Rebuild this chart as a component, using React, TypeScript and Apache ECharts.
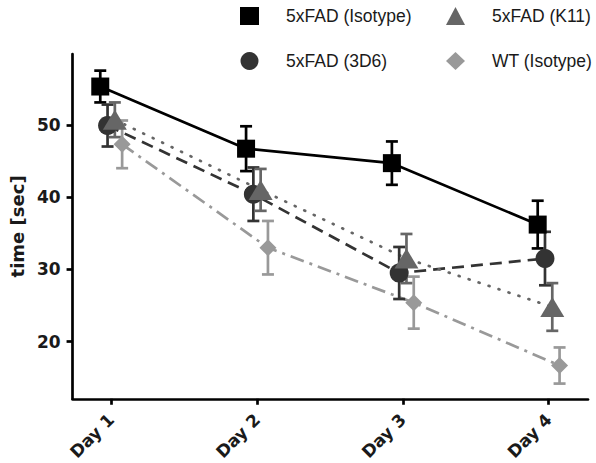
import React, { useEffect, useRef } from "react";
import * as echarts from "echarts";

const days = ["Day 1", "Day 2", "Day 3", "Day 4"];
const groups = ["5xFAD (Isotype)", "5xFAD (3D6)", "5xFAD (K11)", "WT (Isotype)"];
const isotypeMean = [55.3, 46.7, 44.7, 36.2];
const isotypeErr = [2.2, 3.1, 3.0, 3.3];
const d3d6Mean = [49.9, 40.4, 29.5, 31.5];
const d3d6Err = [2.9, 3.7, 3.6, 3.7];
const k11Mean = [50.7, 41.0, 31.5, 24.8];
const k11Err = [2.4, 2.9, 3.4, 3.3];
const wtMean = [47.3, 33.0, 25.4, 16.7];
const wtErr = [3.3, 3.7, 3.6, 2.5];
const yTicks = [20, 30, 40, 50];

const means = [isotypeMean, d3d6Mean, k11Mean, wtMean];
const errs = [isotypeErr, d3d6Err, k11Err, wtErr];
const colors = ["#000000", "#333333", "#666666", "#999999"];
const symbols = ["rect", "circle", "triangle", "diamond"];
const symbolSizes: any[] = [18, 19, [24, 20], 17];
const dashes: any[] = ["solid", [12, 7], [1, 9.5], [14, 6, 3, 6]];
const dodgeWidth = 0.2;
const FONT = "Liberation Sans, Arial, Helvetica, sans-serif";
const BOLDFONT = "DejaVu Sans, Liberation Sans, Arial, sans-serif";

export default function App() {
  const ref = useRef<HTMLDivElement>(null);
  useEffect(() => {
    if (!ref.current) return;
    const chart = echarts.init(ref.current, undefined, { renderer: "svg" });
    const series: any[] = [];
    groups.forEach((g, gi) => {
      const off = (gi - 1.5) * (dodgeWidth / groups.length);
      const pts = means[gi].map((m, di) => [di + 1 + off, m]);
      series.push({
        name: g,
        type: "line",
        data: pts,
        showSymbol: false,
        symbol: "none",
        z: 2,
        lineStyle: { color: colors[gi], width: 2.7, type: dashes[gi], cap: gi === 2 ? "round" : "butt" },
        itemStyle: { color: colors[gi] },
        silent: true,
      });
      series.push({
        name: g,
        type: "custom",
        z: 3,
        data: means[gi].map((m, di) => [di + 1 + off, m, errs[gi][di]]),
        renderItem: (params: any, api: any) => {
          const x = api.value(0);
          const m = api.value(1);
          const e = api.value(2);
          const top = api.coord([x, m + e]);
          const bot = api.coord([x, m - e]);
          const hw = 6;
          const st = { stroke: colors[gi], lineWidth: 2.7, fill: null };
          return {
            type: "group",
            children: [
              { type: "line", shape: { x1: top[0], y1: top[1], x2: bot[0], y2: bot[1] }, style: st },
              { type: "line", shape: { x1: top[0] - hw, y1: top[1], x2: top[0] + hw, y2: top[1] }, style: st },
              { type: "line", shape: { x1: bot[0] - hw, y1: bot[1], x2: bot[0] + hw, y2: bot[1] }, style: st },
            ],
          };
        },
        itemStyle: { color: colors[gi] },
      });
      series.push({
        name: g,
        type: "scatter",
        z: 4,
        data: pts,
        symbol: symbols[gi],
        symbolSize: symbolSizes[gi],
        itemStyle: { color: colors[gi], opacity: 1 },
      });
    });

    const legendBase = {
      orient: "vertical",
      top: 7,
      padding: 0,
      itemWidth: 19,
      itemHeight: 18,
      itemGap: 27,
      selectedMode: false,
      textStyle: { fontFamily: FONT, fontSize: 17.5, color: "#1a1a1a", padding: [0, 0, 0, 22] },
    };
    chart.setOption({
      animation: false,
      backgroundColor: "#ffffff",
      legend: [
        {
          ...legendBase,
          left: 240,
          data: [
            { name: groups[0], icon: "rect", itemStyle: { color: colors[0] } },
            { name: groups[1], icon: "circle", itemStyle: { color: colors[1] } },
          ],
        },
        {
          ...legendBase,
          left: 446,
          data: [
            { name: groups[2], icon: "triangle", itemStyle: { color: colors[2] } },
            { name: groups[3], icon: "diamond", itemStyle: { color: colors[3] } },
          ],
        },
      ],
      grid: { left: 64, right: 8, top: 54, bottom: 62, containLabel: false },
      xAxis: {
        type: "value",
        min: 0.735,
        max: 4.27,
        splitLine: { show: false },
        axisLine: { show: true, lineStyle: { color: "#000", width: 2.7 } },
        axisTick: { show: true, length: 6, customValues: [1, 2, 3, 4], lineStyle: { color: "#000", width: 2.7 } },
        axisLabel: {
          customValues: [1, 2, 3, 4],
          rotate: 45,
          margin: 18,
          formatter: (v: number) => days[Math.round(v) - 1] || "",
          fontFamily: BOLDFONT,
          fontWeight: "bold",
          fontSize: 17,
          color: "#1a1a1a",
        },
      },
      yAxis: {
        type: "value",
        min: 12.1,
        max: 59.8,
        name: "time [sec]",
        nameLocation: "middle",
        nameGap: 44,
        nameTextStyle: { fontFamily: BOLDFONT, fontWeight: "bold", fontSize: 18, color: "#1a1a1a" },
        splitLine: { show: false },
        axisLine: { show: true, lineStyle: { color: "#000", width: 2.7 } },
        axisTick: { show: true, length: 6, customValues: yTicks, lineStyle: { color: "#000", width: 2.7 } },
        axisLabel: {
          customValues: yTicks,
          margin: 12,
          fontFamily: BOLDFONT,
          fontWeight: "bold",
          fontSize: 17,
          color: "#1a1a1a",
        },
      },
      series,
    });
    return () => chart.dispose();
  }, []);
  return (
    <div
      ref={ref}
      style={{ position: "fixed", left: 0, top: 0, width: 596, height: 463, background: "#fff" }}
    />
  );
}
